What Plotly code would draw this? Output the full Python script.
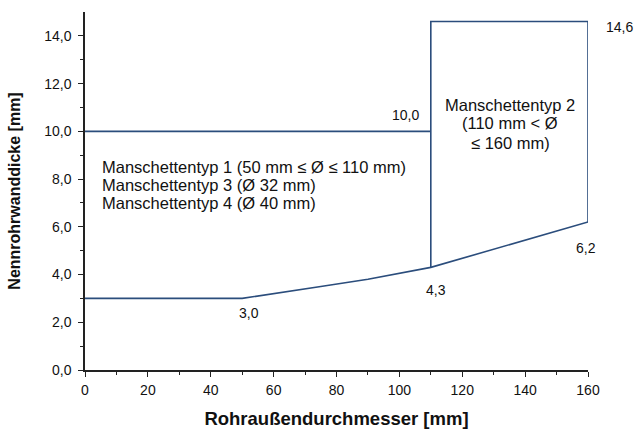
import plotly.graph_objects as go

# Data
lower_x = [0, 50, 75, 90, 110, 160]
lower_y = [3.0, 3.0, 3.5, 3.8, 4.3, 6.2]
upper_x = [0, 110]
upper_y = [10.0, 10.0]
box_x = [110, 110, 160, 160]
box_y = [4.3, 14.6, 14.6, 6.2]

x_ticks = [0, 20, 40, 60, 80, 100, 120, 140, 160]
y_ticks = [0, 2, 4, 6, 8, 10, 12, 14]
y_minor = [1, 3, 5, 7, 9, 11, 13]
x_minor = [10, 30, 50, 70, 90, 110, 130, 150]

value_labels = ["14,6", "10,0", "3,0", "4,3", "6,2"]
type1_lines = ["Manschettentyp 1 (50 mm ≤ Ø ≤ 110 mm)",
               "Manschettentyp 3 (Ø 32 mm)",
               "Manschettentyp 4 (Ø 40 mm)"]
type2_lines = ["Manschettentyp 2", "(110 mm < Ø", "≤ 160 mm)"]

LINE = "#2b4d7c"
FONT = "Liberation Sans, Arial, sans-serif"

fig = go.Figure()
for xs, ys in [(lower_x, lower_y), (upper_x, upper_y), (box_x, box_y)]:
    fig.add_trace(go.Scatter(x=xs, y=ys, mode="lines",
                             line=dict(color=LINE, width=1.6),
                             cliponaxis=False, showlegend=False,
                             hoverinfo="skip"))

val_font = dict(family=FONT, size=14, color="#111")
txt_font = dict(family=FONT, size=16.5, color="#111")
anns = [
    dict(x=160, y=14.6, text=value_labels[0], xanchor="center", xshift=31, yshift=-5, font=val_font),
    dict(x=102, y=10.69, text=value_labels[1], xanchor="center", font=val_font),
    dict(x=52.2, y=2.39, text=value_labels[2], xanchor="center", font=val_font),
    dict(x=111.5, y=3.35, text=value_labels[3], xanchor="center", font=val_font),
    dict(x=159.5, y=5.11, text=value_labels[4], xanchor="center", font=val_font),
]
for txt, yy in zip(type1_lines, [8.51, 7.75, 7.0]):
    anns.append(dict(x=4.8, y=yy, text=txt, xanchor="left", font=txt_font))
for txt, yy in zip(type2_lines, [11.1, 10.35, 9.5]):
    anns.append(dict(x=135.3, y=yy, text=txt, xanchor="center", font=txt_font))
for a in anns:
    fig.add_annotation(showarrow=False, yanchor="middle", **a)

fig.update_layout(
    width=636, height=429,
    margin=dict(l=85, r=48, t=12, b=59),
    paper_bgcolor="white", plot_bgcolor="white",
    separators=",.",
    font=dict(family=FONT, size=13, color="#111"),
    showlegend=False,
)
fig.update_xaxes(
    range=[0, 160], showgrid=False, zeroline=False, automargin=False,
    showline=True, linecolor="#222", linewidth=1.5,
    ticks="outside", ticklen=5, tickwidth=1.2, tickcolor="#222",
    tickvals=x_ticks, ticktext=[str(v) for v in x_ticks],
    ticklabelstandoff=1,
    minor=dict(tickvals=x_minor, ticks="outside", ticklen=3, tickcolor="#222"),
    title=dict(text="<b>Rohraußendurchmesser [mm]</b>", font=dict(family=FONT, size=18.5, color="#111"), standoff=19),
    tickfont=dict(family=FONT, size=14, color="#111"),
)
fig.update_yaxes(
    range=[0, 15], showgrid=False, zeroline=False, automargin=False,
    showline=True, linecolor="#222", linewidth=1.5,
    ticks="outside", ticklen=5, tickwidth=1.2, tickcolor="#222",
    tickvals=y_ticks, tickformat=".1f",
    ticklabelstandoff=4,
    minor=dict(tickvals=y_minor, ticks="outside", ticklen=3, tickcolor="#222"),
    title=dict(text="<b>Nennrohrwanddicke [mm]</b>", font=dict(family=FONT, size=16, color="#111"), standoff=20),
    tickfont=dict(family=FONT, size=14, color="#111"),
)

fig.write_html(
    "out.html",
    config={"displayModeBar": False},
    post_script="document.body.style.margin='0';document.body.style.overflow='hidden';",
)
